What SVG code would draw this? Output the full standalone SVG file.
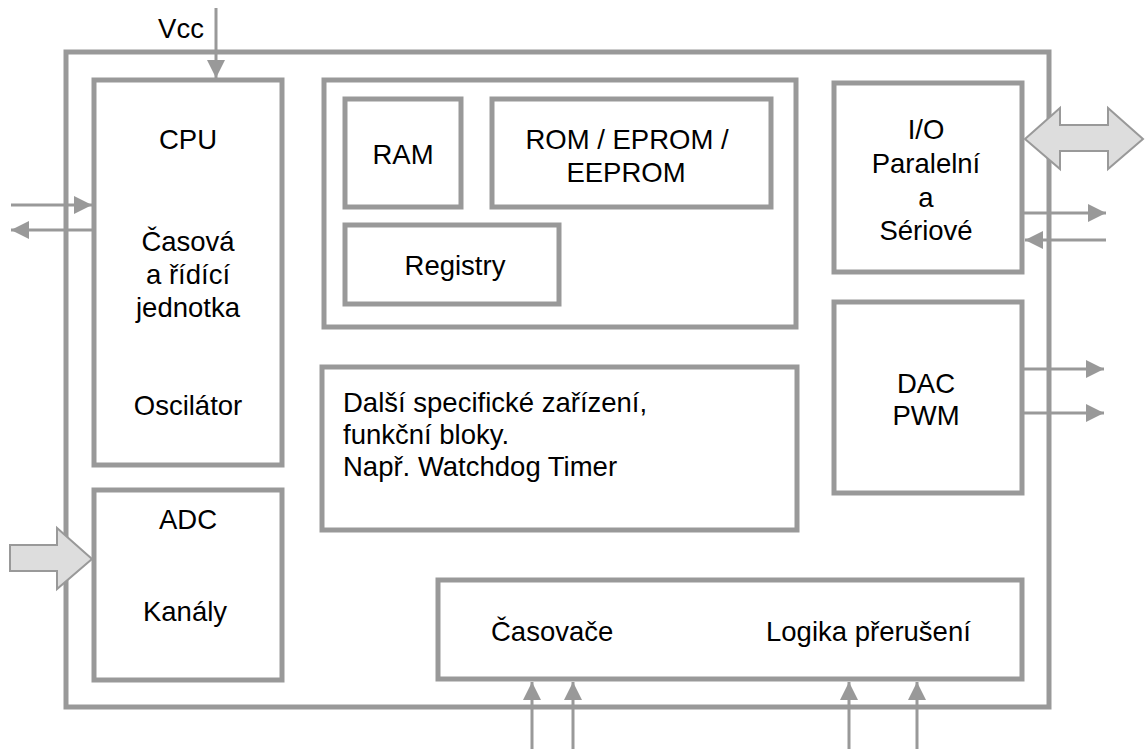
<svg xmlns="http://www.w3.org/2000/svg" width="1145" height="749" viewBox="0 0 1145 749">
<style>
.box{fill:none;stroke:#999999;stroke-width:5}
.t{font-family:"Liberation Sans",Arial,sans-serif;font-size:27.5px;fill:#000}
.c{text-anchor:middle}
.ln{stroke:#999999;stroke-width:3;fill:none;marker-end:url(#ah)}
.big{fill:#dddddd;stroke:#999999;stroke-width:2}
</style>
<defs>
<marker id="ah" markerUnits="userSpaceOnUse" markerWidth="18" markerHeight="18" refX="18" refY="9" orient="auto" viewBox="0 0 18 18">
<path d="M0,0 L18,9 L0,18 z" fill="#999999"/>
</marker>
</defs>
<rect width="1145" height="749" fill="#ffffff"/>
<g id="chip">
<rect class="box" x="66" y="52" width="983" height="655"/>
</g>
<g id="cpu">
<rect class="box" x="94" y="80" width="188" height="385"/>
<text class="t c" x="188" y="149">CPU</text>
<text class="t c" x="188" y="251">Časová</text>
<text class="t c" x="188" y="284">a řídící</text>
<text class="t c" x="188" y="317">jednotka</text>
<text class="t c" x="188" y="415">Oscilátor</text>
</g>
<g id="memory">
<rect class="box" x="324" y="80" width="472" height="247"/>
</g>
<g id="ram">
<rect class="box" x="345" y="99" width="116" height="108"/>
<text class="t c" x="403" y="164">RAM</text>
</g>
<g id="rom">
<rect class="box" x="492" y="99" width="279" height="108"/>
<text class="t c" x="627" y="149">ROM / EPROM /</text>
<text class="t c" x="626" y="182">EEPROM</text>
</g>
<g id="registry">
<rect class="box" x="345" y="225" width="214" height="79"/>
<text class="t c" x="455" y="275">Registry</text>
</g>
<g id="io">
<rect class="box" x="834" y="83" width="188" height="189"/>
<text class="t c" x="926" y="139">I/O</text>
<text class="t c" x="926" y="173">Paralelní</text>
<text class="t c" x="926" y="207">a</text>
<text class="t c" x="926" y="240">Sériové</text>
</g>
<g id="dac">
<rect class="box" x="834" y="302" width="188" height="191"/>
<text class="t c" x="926" y="393">DAC</text>
<text class="t c" x="926" y="425">PWM</text>
</g>
<g id="other">
<rect class="box" x="322" y="367" width="475" height="163"/>
<text class="t" x="343" y="412">Další specifické zařízení,</text>
<text class="t" x="343" y="444">funkční bloky.</text>
<text class="t" x="343" y="476">Např. Watchdog Timer</text>
</g>
<g id="adc">
<rect class="box" x="94" y="490" width="188" height="190"/>
<text class="t c" x="188" y="529">ADC</text>
<text class="t c" x="185" y="621">Kanály</text>
</g>
<g id="timers">
<rect class="box" x="438" y="580" width="584" height="99"/>
<text class="t" x="491" y="641">Časovače</text>
<text class="t" x="766" y="641">Logika přerušení</text>
</g>
<g id="vcc">
<text class="t c" x="181" y="38">Vcc</text>
</g>
<g id="connectors">
<line class="ln" x1="216" y1="8" x2="216" y2="78"/>
<line class="ln" x1="11" y1="205" x2="92" y2="205"/>
<line class="ln" x1="92" y1="230" x2="11" y2="230"/>
<polygon class="big" points="1025,139 1060,108 1060,125 1108,125 1108,108 1143,139 1108,169 1108,151 1060,151 1060,169"/>
<line class="ln" x1="1022" y1="213" x2="1106" y2="213"/>
<line class="ln" x1="1106" y1="240" x2="1025" y2="240"/>
<line class="ln" x1="1022" y1="369" x2="1104" y2="369"/>
<line class="ln" x1="1022" y1="413" x2="1104" y2="413"/>
<polygon class="big" points="10,545 57,545 57,528 92,559 57,589 57,571 10,571"/>
<line class="ln" x1="532" y1="749" x2="532" y2="682"/>
<line class="ln" x1="573" y1="749" x2="573" y2="682"/>
<line class="ln" x1="849" y1="749" x2="849" y2="682"/>
<line class="ln" x1="917" y1="749" x2="917" y2="682"/>
</g>
</svg>
